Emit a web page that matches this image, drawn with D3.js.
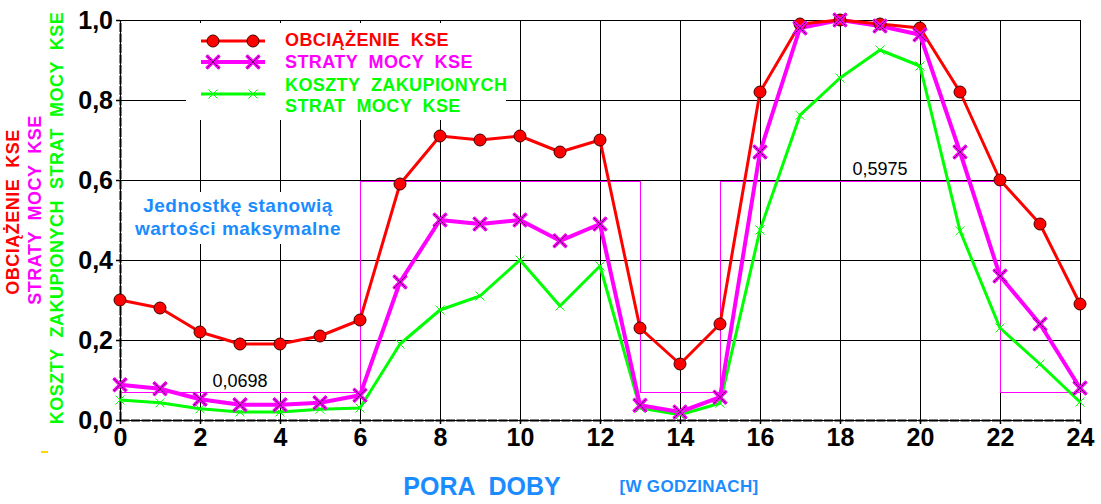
<!DOCTYPE html>
<html>
<head>
<meta charset="utf-8">
<script src="https://cdn.jsdelivr.net/npm/d3@7"></script>
<style>
  body { margin: 0; background: #fff; }
  svg { display: block; font-family: Arial, "Liberation Sans", sans-serif; }
  text { white-space: pre; }
</style>
</head>
<body>
<div id="chart-area"></div>
<script>
// hours of the day 0..24
const hours = d3.range(0, 25);

// values (1 = maximum)
const obciazenie = [0.30, 0.28, 0.22, 0.19, 0.19, 0.21, 0.25, 0.59, 0.71, 0.70, 0.71, 0.67, 0.70,
                    0.23, 0.14, 0.24, 0.82, 0.99, 1.00, 0.99, 0.98, 0.82, 0.60, 0.49, 0.29];
const straty = [0.088, 0.078, 0.052, 0.038, 0.038, 0.043, 0.062, 0.345, 0.50, 0.49, 0.50, 0.448, 0.49,
                0.037, 0.02, 0.057, 0.67, 0.98, 1.00, 0.985, 0.963, 0.67, 0.36, 0.24, 0.08];
const koszty = [0.05, 0.043, 0.028, 0.02, 0.02, 0.027, 0.03, 0.19, 0.275, 0.31, 0.40, 0.285, 0.385,
                0.03, 0.013, 0.042, 0.475, 0.762, 0.855, 0.925, 0.885, 0.473, 0.23, 0.14, 0.045];

// tariff steps (thin magenta line)
const stepHours = [0, 6, 6, 13, 13, 15, 15, 22, 22, 24];
const stepValues = [0.0698, 0.0698, 0.5975, 0.5975, 0.0698, 0.0698, 0.5975, 0.5975, 0.0698, 0.0698];

const xTicks = d3.range(0, 25, 2);
const yTicks = [0, 0.2, 0.4, 0.6, 0.8, 1.0];

const chartAreaWidth = 1101;
const chartAreaHeight = 504;

const svg = d3.select("#chart-area").append("svg")
    .attr("width", chartAreaWidth)
    .attr("height", chartAreaHeight);

const x = d3.scaleLinear().domain([0, 24]).range([120, 1080]);
const y = d3.scaleLinear().domain([0, 1]).range([420, 20]);

const fmt = d => d3.format(".1f")(d).replace(".", ",");

// grid
svg.append("g").attr("shape-rendering", "crispEdges").selectAll("line")
    .data(xTicks)
    .join("line")
    .attr("x1", d => x(d) + 0.5).attr("x2", d => x(d) + 0.5)
    .attr("y1", y(1)).attr("y2", y(0))
    .attr("stroke", "#000").attr("stroke-width", 1);

svg.append("g").attr("shape-rendering", "crispEdges").selectAll("line")
    .data(yTicks)
    .join("line")
    .attr("x1", x(0)).attr("x2", x(24))
    .attr("y1", d => y(d) + 0.5).attr("y2", d => y(d) + 0.5)
    .attr("stroke", "#000").attr("stroke-width", 1);

// white boxes behind legend and note
svg.append("rect").attr("x", 186).attr("y", 23).attr("width", 320).attr("height", 97).attr("fill", "#fff");
svg.append("rect").attr("x", 123).attr("y", 192).attr("width", 232).attr("height", 52).attr("fill", "#fff");

// axes
const yAxis = d3.axisLeft(y).tickValues(yTicks).tickFormat(fmt).tickSize(4).tickPadding(3).tickSizeOuter(0);
const xAxis = d3.axisBottom(x).tickValues(xTicks).tickFormat(d => d).tickSize(4).tickPadding(4).tickSizeOuter(0);

const gy = svg.append("g").attr("transform", `translate(${x(0)},0)`).call(yAxis);
const gx = svg.append("g").attr("transform", `translate(0,${y(0)})`).call(xAxis);

[gx, gy].forEach(g => {
    g.select(".domain").attr("stroke", "#000").attr("stroke-width", 2).attr("stroke-dasharray", "9,1.5");
    g.selectAll(".tick line").attr("stroke", "#000").attr("stroke-width", 1.5);
    g.selectAll(".tick text")
        .attr("fill", "#000")
        .attr("font-family", "Arial, 'Liberation Sans', sans-serif")
        .attr("font-weight", "bold")
        .attr("font-size", 25);
});

// step line + labels
svg.append("path")
    .datum(d3.zip(stepHours, stepValues))
    .attr("fill", "none")
    .attr("stroke", "#ff00ff")
    .attr("stroke-width", 1)
    .attr("shape-rendering", "crispEdges")
    .attr("d", d3.line().x(d => Math.round(x(d[0])) + 0.5).y(d => Math.round(y(d[1])) + 0.5));

svg.append("text").attr("x", x(3)).attr("y", y(0.0698) - 5)
    .attr("text-anchor", "middle").attr("font-size", 18).text("0,0698");
svg.append("text").attr("x", x(19)).attr("y", y(0.5975) - 6)
    .attr("text-anchor", "middle").attr("font-size", 18).text("0,5975");

// series lines
const line = d3.line().x((d, i) => x(hours[i])).y(d => y(d));

svg.append("path").datum(koszty).attr("fill", "none").attr("stroke", "#00ff00")
    .attr("stroke-width", 3).attr("stroke-linejoin", "round").attr("d", line);
svg.append("path").datum(straty).attr("fill", "none").attr("stroke", "#ff00ff")
    .attr("stroke-width", 4).attr("stroke-linejoin", "round").attr("d", line);
svg.append("path").datum(obciazenie).attr("fill", "none").attr("stroke", "#ff0000")
    .attr("stroke-width", 3).attr("stroke-linejoin", "round").attr("d", line);

// markers
function crossPath(cx, cy, r) {
    return `M${cx - r},${cy - r}L${cx + r},${cy + r}M${cx - r},${cy + r}L${cx + r},${cy - r}`;
}

function drawCircles(data, cxs) {
    svg.append("g").selectAll("circle")
        .data(data)
        .join("circle")
        .attr("cx", (d, i) => cxs(i)).attr("cy", d => y(d))
        .attr("r", 6)
        .attr("fill", "#ff0000").attr("stroke", "#400000").attr("stroke-width", 1);
}

function drawBigCross(data, cxs) {
    const g = svg.append("g");
    g.selectAll("path.o")
        .data(data)
        .join("path")
        .attr("d", (d, i) => crossPath(cxs(i), y(d), 6.5))
        .attr("stroke", "#ff00ff").attr("stroke-width", 3.5);
    g.selectAll("path.i")
        .data(data)
        .join("path")
        .attr("d", (d, i) => crossPath(cxs(i), y(d), 6.5))
        .attr("stroke", "#500050").attr("stroke-width", 0.9);
}

function drawSmallCross(data, cxs) {
    svg.append("g").selectAll("path")
        .data(data)
        .join("path")
        .attr("d", (d, i) => crossPath(cxs(i), y(d), 4.5))
        .attr("stroke", "#00ff00").attr("stroke-width", 1);
}

const hx = i => x(hours[i]);
drawSmallCross(koszty, hx);
drawCircles(obciazenie, hx);
drawBigCross(straty, hx);

// legend
const legend = svg.append("g");
const legRows = [
    { color: "#ff0000", width: 3, ly: 41, kind: "circle", labels: [["OBCIĄŻENIE  KSE", 46]] },
    { color: "#ff00ff", width: 4, ly: 62, kind: "big", labels: [["STRATY  MOCY  KSE", 68]] },
    { color: "#00ff00", width: 3, ly: 94, kind: "small", labels: [["KOSZTY  ZAKUPIONYCH", 91], ["STRAT  MOCY  KSE", 112]] }
];
legRows.forEach(r => {
    legend.append("line").attr("x1", 201).attr("x2", 265).attr("y1", r.ly).attr("y2", r.ly)
        .attr("stroke", r.color).attr("stroke-width", r.width);
    [213, 253].forEach(mx => {
        if (r.kind === "circle") {
            legend.append("circle").attr("cx", mx).attr("cy", r.ly).attr("r", 6)
                .attr("fill", "#ff0000").attr("stroke", "#400000");
        } else if (r.kind === "big") {
            legend.append("path").attr("d", crossPath(mx, r.ly, 6.5)).attr("stroke", "#ff00ff").attr("stroke-width", 3.5);
            legend.append("path").attr("d", crossPath(mx, r.ly, 6.5)).attr("stroke", "#500050").attr("stroke-width", 0.9);
        } else {
            legend.append("path").attr("d", crossPath(mx, r.ly, 4.5)).attr("stroke", "#00ff00").attr("stroke-width", 1);
        }
    });
    r.labels.forEach(l => {
        legend.append("text").attr("x", 285).attr("y", l[1])
            .attr("fill", r.color).attr("font-weight", "bold").attr("font-size", 18)
            .attr("letter-spacing", 0.4)
            .text(l[0]);
    });
});

// note
svg.append("text").attr("x", 238).attr("y", 212).attr("text-anchor", "middle")
    .attr("fill", "#1a8cff").attr("font-weight", "bold").attr("font-size", 19).attr("letter-spacing", 0.5)
    .text("Jednostkę stanowią");
svg.append("text").attr("x", 238).attr("y", 235).attr("text-anchor", "middle")
    .attr("fill", "#1a8cff").attr("font-weight", "bold").attr("font-size", 19).attr("letter-spacing", 0.5)
    .text("wartości maksymalne");

// y axis titles (rotated)
const yTitles = [
    { text: "OBCIĄŻENIE  KSE", color: "#ff0000", cx: 13, cy: 212 },
    { text: "STRATY  MOCY  KSE", color: "#ff00ff", cx: 35, cy: 210 },
    { text: "KOSZTY  ZAKUPIONYCH  STRAT  MOCY  KSE", color: "#00ff00", cx: 57, cy: 218 }
];
yTitles.forEach(t => {
    svg.append("text")
        .attr("transform", `translate(${t.cx + 6},${t.cy}) rotate(-90)`)
        .attr("text-anchor", "middle")
        .attr("fill", t.color).attr("font-weight", "bold").attr("font-size", 18)
        .attr("letter-spacing", 0.5)
        .text(t.text);
});

// x axis title
svg.append("text").attr("x", 482).attr("y", 495).attr("text-anchor", "middle")
    .attr("fill", "#1a8cff").attr("font-weight", "bold").attr("font-size", 25)
    .text("PORA  DOBY");
svg.append("text").attr("x", 689).attr("y", 492).attr("text-anchor", "middle")
    .attr("fill", "#1a8cff").attr("font-weight", "bold").attr("font-size", 17)
    .attr("letter-spacing", 0.3)
    .text("[W GODZINACH]");

// small yellow mark
svg.append("rect").attr("x", 41).attr("y", 451).attr("width", 7).attr("height", 2).attr("fill", "#ffd800");
</script>
</body>
</html>
